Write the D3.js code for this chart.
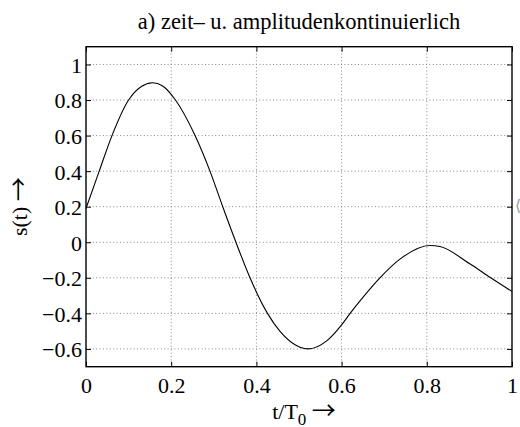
<!DOCTYPE html>
<html>
<head>
<meta charset="utf-8">
<script src="https://cdn.jsdelivr.net/npm/d3@7"></script>
<style>
  body { margin: 0; background: #fff; }
  svg text { font-family: "Liberation Serif", "Times New Roman", serif; fill: #000; }
</style>
</head>
<body>
<div id="svg-area"></div>
<script>
// values
var tValues = [0, 0.031, 0.061, 0.10, 0.13, 0.156, 0.18, 0.21, 0.256, 0.291, 0.321, 0.352, 0.385, 0.426,
  0.455, 0.502, 0.522, 0.565, 0.60, 0.62, 0.65, 0.69, 0.737, 0.807, 0.831, 0.90, 0.95, 1.0];
var sValues = [0.19, 0.40, 0.60, 0.80, 0.876, 0.897, 0.879, 0.80, 0.60, 0.40, 0.20, 0.00, -0.20, -0.40,
  -0.50, -0.59, -0.60, -0.555, -0.465, -0.40, -0.31, -0.20, -0.095, -0.018, -0.024, -0.12, -0.20, -0.277];
var xTicks = [0, 0.2, 0.4, 0.6, 0.8, 1];
var yTicks = [-0.6, -0.4, -0.2, 0, 0.2, 0.4, 0.6, 0.8, 1];

var svgWidth = 520;
var svgHeight = 427;

var margin = { top: 46.7, right: 8, bottom: 60.3, left: 86 };
var chartWidth = svgWidth - margin.left - margin.right;
var chartHeight = svgHeight - margin.top - margin.bottom;

var svg = d3.select("#svg-area").append("svg")
  .attr("width", svgWidth)
  .attr("height", svgHeight);

var chartGroup = svg.append("g")
  .attr("transform", `translate(${margin.left}, ${margin.top})`);

var xScale = d3.scaleLinear().domain([0, 1]).range([0, chartWidth]);
var yScale = d3.scaleLinear().domain([-0.7, 1.1]).range([chartHeight, 0]);

// dotted grid
chartGroup.append("g").selectAll("line")
  .data(xTicks.slice(1, -1))
  .enter().append("line")
  .attr("x1", d => xScale(d)).attr("x2", d => xScale(d))
  .attr("y1", 0).attr("y2", chartHeight)
  .attr("stroke", "#888").attr("stroke-dasharray", "1 2.4");

chartGroup.append("g").selectAll("line")
  .data(yTicks)
  .enter().append("line")
  .attr("y1", d => yScale(d)).attr("y2", d => yScale(d))
  .attr("x1", 0).attr("x2", chartWidth)
  .attr("stroke", "#888").attr("stroke-dasharray", "1 2.4");

// axes with inward ticks on all four sides
var tickLen = 5;
var fmt = d => d3.format("~g")(d).replace("-", "\u2212");
var xAxis = d3.axisBottom(xScale).tickValues(xTicks).tickSizeInner(-tickLen).tickSizeOuter(0).tickPadding(11).tickFormat(fmt);
var yAxis = d3.axisLeft(yScale).tickValues(yTicks).tickSizeInner(-tickLen).tickSizeOuter(0).tickPadding(4).tickFormat(fmt);
var xTop = d3.axisTop(xScale).tickValues(xTicks).tickSizeInner(-tickLen).tickSizeOuter(0).tickFormat("");
var yRight = d3.axisRight(yScale).tickValues(yTicks).tickSizeInner(-tickLen).tickSizeOuter(0).tickFormat("");

var gx = chartGroup.append("g").attr("transform", `translate(0, ${chartHeight})`).call(xAxis);
var gy = chartGroup.append("g").call(yAxis);
chartGroup.append("g").call(xTop);
chartGroup.append("g").attr("transform", `translate(${chartWidth}, 0)`).call(yRight);

chartGroup.selectAll(".domain").remove();
chartGroup.selectAll(".tick line").attr("stroke", "#000");
gx.selectAll("text").attr("font-size", 22).attr("font-family", "Liberation Serif").attr("dy", "0.71em");
gy.selectAll("text").attr("font-size", 22).attr("font-family", "Liberation Serif").attr("dy", "0.36em");

// the signal
var line = d3.line()
  .x((d, i) => xScale(tValues[i]))
  .y((d, i) => yScale(sValues[i]))
  .curve(d3.curveMonotoneX);

chartGroup.append("path")
  .datum(sValues)
  .attr("d", line)
  .attr("fill", "none")
  .attr("stroke", "#000")
  .attr("stroke-width", 1.1);

// box
chartGroup.append("rect")
  .attr("width", chartWidth).attr("height", chartHeight)
  .attr("fill", "none").attr("stroke", "#000").attr("stroke-width", 1.4);

// labels
svg.append("text")
  .attr("x", margin.left + chartWidth / 2).attr("y", 28.5)
  .attr("text-anchor", "middle").attr("font-size", 22.5)
  .text("a) zeit\u2013 u. amplitudenkontinuierlich");

var xl = svg.append("text")
  .attr("x", margin.left + chartWidth / 2 + 5).attr("y", 418.5)
  .attr("text-anchor", "middle").attr("font-size", 22);
xl.append("tspan").text("t/T");
xl.append("tspan").attr("dy", 6).attr("font-size", 17).text("0");
xl.append("tspan").attr("dy", -6).text(" ");
xl.append("tspan").attr("font-family", "Noto Sans CJK JP").attr("font-size", 24).text("\u2192");

var yl = svg.append("text")
  .attr("transform", `translate(27, ${margin.top + chartHeight / 2}) rotate(-90)`)
  .attr("text-anchor", "middle").attr("font-size", 22);
yl.append("tspan").text("s(t) ");
yl.append("tspan").attr("font-family", "Noto Sans CJK JP").attr("font-size", 24).text("\u2192");

// clipped glyph of the neighbouring panel at the right edge
svg.append("text")
  .attr("x", 515).attr("y", 211).attr("font-size", 16)
  .style("fill", "#999")
  .text("\u27e8");
</script>
</body>
</html>
